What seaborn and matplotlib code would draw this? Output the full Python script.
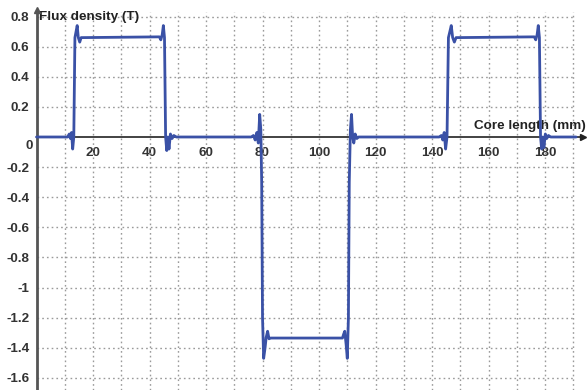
import matplotlib
matplotlib.use("Agg")
import matplotlib.pyplot as plt
import seaborn as sns
import pandas as pd
import numpy as np

# ---- data ----
x_mm = [0, 10, 11, 11.6, 12.0, 12.4, 12.8, 13.2, 13.6, 14.0, 14.4, 14.8, 15.3, 15.8, 16.5,
        43.5, 44.0, 44.5, 44.9, 45.3, 45.7, 46.1, 46.5, 46.9, 47.4, 48.0, 48.6, 49.5,
        76.0, 76.8, 77.4, 78.0, 78.5, 79.0, 79.4, 79.7, 80.0, 80.4, 80.9, 81.3, 81.8, 82.3, 82.9,
        108.3, 108.7, 109.1, 109.6, 110.0, 110.4, 110.7, 111.1, 111.5, 111.9, 112.3, 112.8, 113.4, 114.0,
        142.5, 143.3, 143.8, 144.3, 144.8, 145.3, 145.8, 146.3, 146.8, 147.3, 147.9, 148.5, 149.2,
        176.2, 176.7, 177.2, 177.6, 178.0, 178.4, 178.8, 179.2, 179.6, 180.1, 180.6, 181.2, 182.0, 191.0]
flux_T = [0, 0, 0.0, 0.02, -0.01, 0.03, -0.08, 0.0, 0.66, 0.70, 0.74, 0.66, 0.63, 0.66, 0.66,
          0.665, 0.645, 0.68, 0.74, 0.66, 0.0, -0.09, 0.0, -0.08, 0.02, -0.01, 0.01, 0.0,
          0.0, 0.01, -0.02, 0.03, -0.04, 0.15, 0.05, -0.3, -1.2, -1.47, -1.40, -1.33, -1.29, -1.34, -1.335,
          -1.335, -1.31, -1.29, -1.38, -1.47, -1.2, -0.3, 0.05, 0.15, 0.0, -0.04, 0.02, -0.01, 0.0,
          0.0, 0.01, -0.02, 0.03, -0.08, 0.0, 0.66, 0.70, 0.74, 0.66, 0.63, 0.66, 0.66,
          0.665, 0.645, 0.68, 0.74, 0.66, 0.0, -0.08, 0.0, -0.07, 0.02, -0.01, 0.01, 0.0, 0.0]

y_ticks = [0.8, 0.6, 0.4, 0.2, -0.2, -0.4, -0.6, -0.8, -1.0, -1.2, -1.4, -1.6]
y_tick_labels = ["0.8", "0.6", "0.4", "0.2", "-0.2", "-0.4", "-0.6", "-0.8", "-1", "-1.2", "-1.4", "-1.6"]
x_ticks = list(range(10, 200, 10))
x_tick_labels = ["", "20", "", "40", "", "60", "", "80", "", "100", "", "120", "", "140", "", "160", "", "180", ""]

y_label = "Flux density (T)"
x_label = "Core length (mm)"

# ---- figure ----
sns.set_style("white")
plt.rcParams["font.family"] = ["Liberation Sans", "DejaVu Sans"]
FS = 9.7

fig = plt.figure(figsize=(5.88, 3.90), dpi=100)
ax = fig.add_axes([0, 0, 1, 1])
ax.set_xlim(-12.92, 195.2)
ax.set_ylim(-1.680, 0.9097)

grid_c = "#9a9a9a"
ax.hlines(y_ticks, 0, 190, colors=grid_c, linestyles=(0, (1.2, 2.2)), lw=1.0, zorder=1)
ax.vlines(x_ticks, -1.68, 0.83, colors=grid_c, linestyles=(0, (1.2, 2.2)), lw=1.0, zorder=1)

df = pd.DataFrame({"x": x_mm, "y": flux_T})
sns.lineplot(data=df, x="x", y="y", ax=ax, sort=False, estimator=None,
             color="#3a51a6", lw=2.0, zorder=4)

for s in ["top", "right"]:
    ax.spines[s].set_visible(False)
ax.spines["left"].set_position(("data", 0))
ax.spines["bottom"].set_position(("data", 0))
ax.spines["left"].set_bounds(-1.68, 0.83)
ax.spines["bottom"].set_bounds(0, 193)
ax.spines["left"].set_color("#555555")
ax.spines["left"].set_linewidth(2.0)
ax.spines["bottom"].set_color("#222222")
ax.spines["bottom"].set_linewidth(1.2)
ax.spines["left"].set_zorder(3)
ax.spines["bottom"].set_zorder(3)

# arrows
ax.plot([193.5], [0], marker=">", color="#222222", ms=5, clip_on=False, zorder=5)
ax.plot([0], [0.84], marker="^", color="#555555", ms=4, clip_on=False, zorder=5)

ax.set_yticks(y_ticks)
ax.set_yticklabels(y_tick_labels)
ax.set_xticks(x_ticks)
ax.set_xticklabels(x_tick_labels)
ax.tick_params(axis="y", direction="inout", length=8, width=1.2, color="#444444",
               pad=1, labelsize=FS, labelcolor="#333333")
ax.tick_params(axis="x", direction="inout", length=9, width=1.0, color="#222222",
               pad=3, labelsize=FS, labelcolor="#333333")
for t in ax.get_xticklabels() + ax.get_yticklabels():
    t.set_fontweight("bold")

ax.set_xlabel("")
ax.set_ylabel("")
ax.text(-1.2, -0.063, "0", ha="right", va="center", fontsize=FS, fontweight="bold", color="#333333")
ax.text(0.9, 0.80, y_label, ha="left", va="center", fontsize=FS, fontweight="bold", color="#222222")
ax.text(155.0, 0.07, x_label, ha="left", va="center", fontsize=FS, fontweight="bold", color="#222222")

fig.savefig("out.png", dpi=100, facecolor="white")
